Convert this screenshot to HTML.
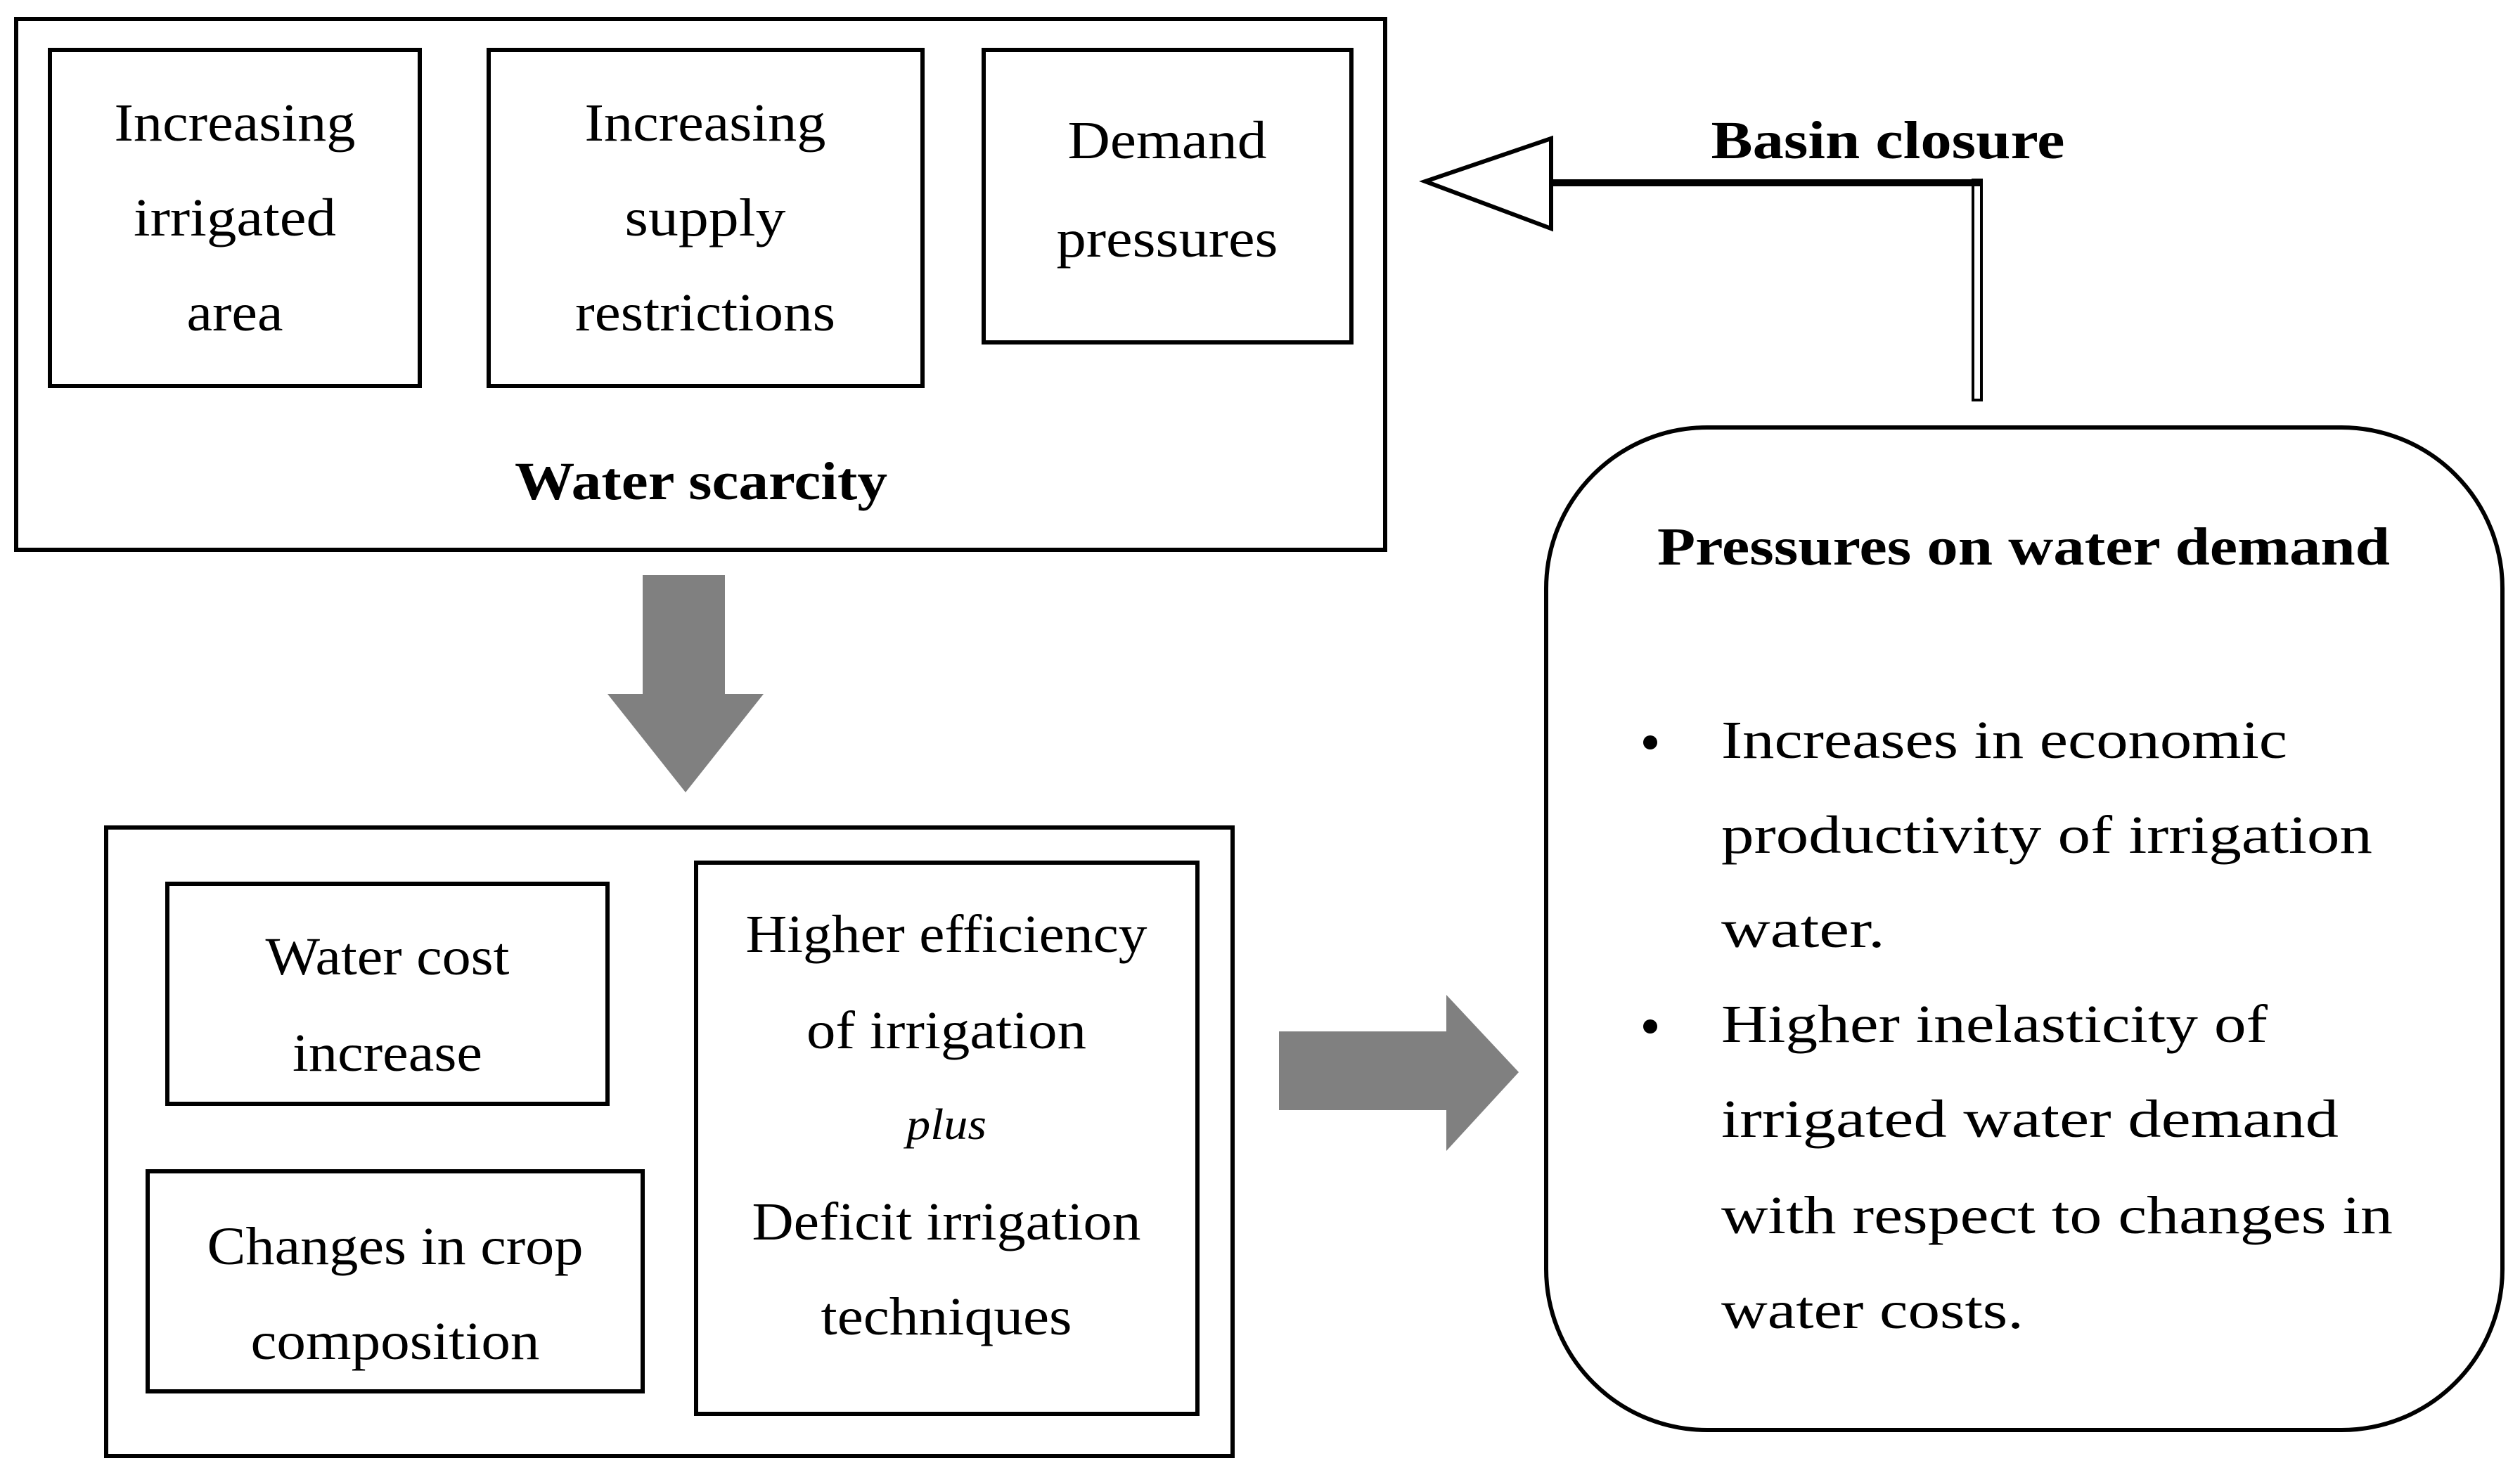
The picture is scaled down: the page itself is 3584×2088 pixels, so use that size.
<!DOCTYPE html>
<html><head><meta charset="utf-8"><style>
html,body{margin:0;padding:0;background:#fff}
svg{display:block}
text{font-family:"Liberation Serif",serif;font-size:76px;fill:#000}
.b{font-weight:bold}
</style></head><body>
<svg width="3584" height="2088" viewBox="0 0 3584 2088" xmlns="http://www.w3.org/2000/svg">
<g fill="none" stroke="#000" stroke-width="6">
<rect x="23" y="27" width="1947" height="755"/>
<rect x="71" y="71" width="526" height="478"/>
<rect x="695" y="71" width="617" height="478"/>
<rect x="1399" y="71" width="523" height="416"/>
<rect x="151" y="1177" width="1602" height="894"/>
<rect x="238" y="1257" width="626" height="313"/>
<rect x="210" y="1666" width="704" height="313"/>
<rect x="990" y="1227" width="713" height="784"/>
<rect x="2199" y="608" width="1360" height="1426" rx="229" ry="229"/>
<polygon points="2027,258 2206,197 2206,325"/>
</g>
<rect x="2806" y="256" width="12" height="313" fill="#fff" stroke="#000" stroke-width="4"/>
<line x1="2206" y1="260" x2="2816" y2="260" stroke="#000" stroke-width="10"/>
<polygon fill="#808080" points="914,818 1031,818 1031,987 1086,987 975,1127 864,987 914,987"/>
<polygon fill="#808080" points="1819,1467 2057,1467 2057,1415 2160,1525 2057,1637 2057,1579 1819,1579"/>
<g text-anchor="middle" lengthAdjust="spacingAndGlyphs">
<text x="334" y="200" textLength="343" lengthAdjust="spacingAndGlyphs">Increasing</text>
<text x="334" y="335" textLength="288" lengthAdjust="spacingAndGlyphs">irrigated</text>
<text x="334" y="470" textLength="137" lengthAdjust="spacingAndGlyphs">area</text>
<text x="1003" y="200" textLength="343" lengthAdjust="spacingAndGlyphs">Increasing</text>
<text x="1003" y="335" textLength="229" lengthAdjust="spacingAndGlyphs">supply</text>
<text x="1003" y="470" textLength="370" lengthAdjust="spacingAndGlyphs">restrictions</text>
<text x="1660" y="225" textLength="283" lengthAdjust="spacingAndGlyphs">Demand</text>
<text x="1660" y="365" textLength="315" lengthAdjust="spacingAndGlyphs">pressures</text>
<text class="b" x="997" y="710" textLength="530" lengthAdjust="spacingAndGlyphs">Water scarcity</text>
<text x="551" y="1386" textLength="347" lengthAdjust="spacingAndGlyphs">Water cost</text>
<text x="551" y="1523" textLength="270" lengthAdjust="spacingAndGlyphs">increase</text>
<text x="562" y="1798" textLength="535" lengthAdjust="spacingAndGlyphs">Changes in crop</text>
<text x="562" y="1933" textLength="411" lengthAdjust="spacingAndGlyphs">composition</text>
<text x="1346" y="1354" textLength="571" lengthAdjust="spacingAndGlyphs">Higher efficiency</text>
<text x="1346" y="1491" textLength="398" lengthAdjust="spacingAndGlyphs">of irrigation</text>
<text x="1346" y="1620" font-style="italic" style="font-size:62px" textLength="114" lengthAdjust="spacingAndGlyphs">plus</text>
<text x="1346" y="1763" textLength="553" lengthAdjust="spacingAndGlyphs">Deficit irrigation</text>
<text x="1346" y="1898" textLength="357" lengthAdjust="spacingAndGlyphs">techniques</text>
<text class="b" x="2878" y="803" textLength="1042" lengthAdjust="spacingAndGlyphs">Pressures on water demand</text>
<text class="b" x="2685" y="225" textLength="503" lengthAdjust="spacingAndGlyphs">Basin closure</text>
</g>
<circle cx="2347" cy="1056" r="10"/>
<circle cx="2347" cy="1460" r="10"/>
<text x="2448" y="1078" textLength="805" lengthAdjust="spacingAndGlyphs">Increases in economic</text>
<text x="2448" y="1213" textLength="926" lengthAdjust="spacingAndGlyphs">productivity of irrigation</text>
<text x="2448" y="1347" textLength="233" lengthAdjust="spacingAndGlyphs">water.</text>
<text x="2448" y="1482" textLength="777" lengthAdjust="spacingAndGlyphs">Higher inelasticity of</text>
<text x="2448" y="1617" textLength="878" lengthAdjust="spacingAndGlyphs">irrigated water demand</text>
<text x="2448" y="1754" textLength="955" lengthAdjust="spacingAndGlyphs">with respect to changes in</text>
<text x="2448" y="1889" textLength="430" lengthAdjust="spacingAndGlyphs">water costs.</text>
</svg>
</body></html>
